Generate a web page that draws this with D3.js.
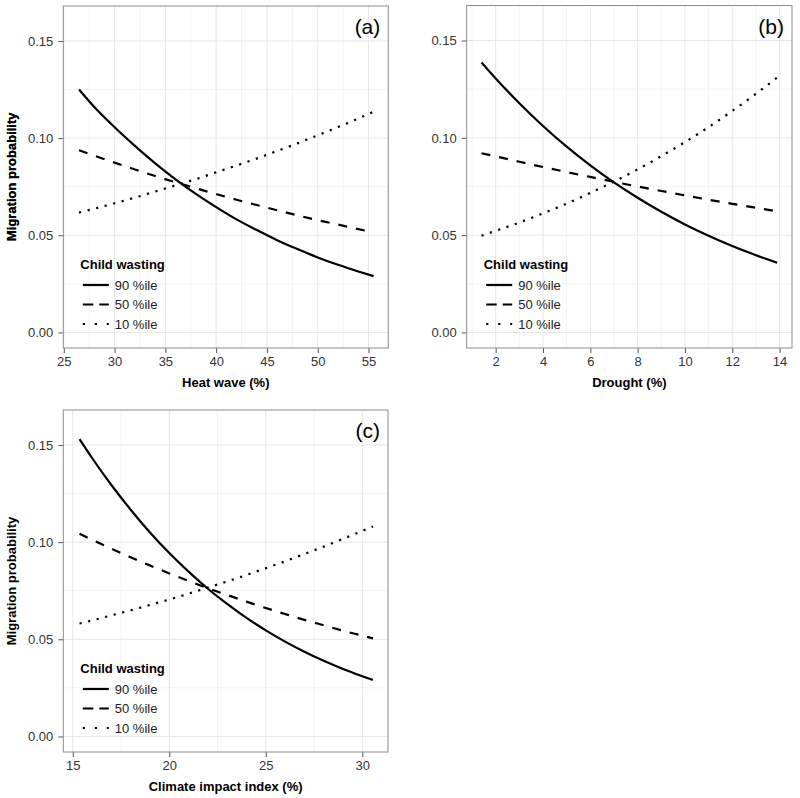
<!DOCTYPE html>
<html>
<meta charset="utf-8">
<title>Migration probability by climate exposure and child wasting</title>
<head>
<style>
  body { margin: 0; background: #fff; }
  svg { display: block; font-family: "Liberation Sans", Arial, Helvetica, sans-serif; }
  .tick text { fill: #333; font-size: 13px; }
  .tick line { stroke: #555; }
  .domain { display: none; }
</style>
</head>
<body>
<script src="https://cdnjs.cloudflare.com/ajax/libs/d3/7.8.5/d3.min.js"></script>
<script>

// ---- data ----
var seriesNames = ["90 %ile", "50 %ile", "10 %ile"];
var yTicks = [0, 0.05, 0.10, 0.15];

// (a) heat wave
var heatX   = [26.5, 28, 30, 32, 34, 36, 38, 40, 42, 44, 46, 48, 50, 52, 54, 55.5];
var heat90  = [0.125, 0.116, 0.1056, 0.096, 0.087, 0.0788, 0.0713, 0.0645, 0.0582, 0.0527, 0.0475, 0.0429, 0.0386, 0.0348, 0.0314, 0.029];
var heat50  = [0.0938, 0.091, 0.0874, 0.0839, 0.0805, 0.0773, 0.0742, 0.0712, 0.0683, 0.0656, 0.0629, 0.0603, 0.0578, 0.0555, 0.0532, 0.0515];
var heat10  = [0.0617, 0.0637, 0.0665, 0.0694, 0.0725, 0.0757, 0.0789, 0.0824, 0.0859, 0.0895, 0.0934, 0.0973, 0.1015, 0.1057, 0.1101, 0.1136];
var heatTicks = [25, 30, 35, 40, 45, 50, 55];

// (b) drought
var droughtX  = [1.4, 2, 3, 4, 5, 6, 7, 8, 9, 10, 11, 12, 13, 13.9];
var drought90 = [0.1387, 0.1305, 0.1178, 0.1061, 0.0955, 0.0859, 0.0771, 0.0692, 0.062, 0.0555, 0.0497, 0.0444, 0.0397, 0.0358];
var drought50 = [0.0921, 0.0905, 0.0877, 0.085, 0.0824, 0.0799, 0.0774, 0.075, 0.0727, 0.0704, 0.0682, 0.0661, 0.0641, 0.0622];
var drought10 = [0.0497, 0.0522, 0.0565, 0.0612, 0.0662, 0.0717, 0.0775, 0.0838, 0.0906, 0.0978, 0.1055, 0.1138, 0.1226, 0.131];
var droughtTicks = [2, 4, 6, 8, 10, 12, 14];

// (c) climate impact index
var climateX  = [15.35, 16, 17, 18, 19, 20, 21, 22, 23, 24, 25, 26, 27, 28, 29, 30, 30.55];
var climate90 = [0.153, 0.1433, 0.1294, 0.1167, 0.105, 0.0944, 0.0848, 0.076, 0.0682, 0.061, 0.0546, 0.0488, 0.0436, 0.0389, 0.0347, 0.031, 0.0291];
var climate50 = [0.1043, 0.1012, 0.0966, 0.0922, 0.088, 0.0839, 0.08, 0.0763, 0.0728, 0.0694, 0.0661, 0.063, 0.06, 0.0572, 0.0544, 0.0519, 0.0505];
var climate10 = [0.0581, 0.0597, 0.0623, 0.0649, 0.0677, 0.0705, 0.0735, 0.0766, 0.0798, 0.0831, 0.0866, 0.0901, 0.0939, 0.0977, 0.1017, 0.1058, 0.1081];
var climateTicks = [15, 20, 25, 30];

// line styles for the three percentiles
var dashes    = [null, "9,9", "2.2,6.6"];
var keyDashes = [null, "10.5,6", "2.2,9.8"];

var svg = d3.select("body").append("svg")
  .attr("width", 800)
  .attr("height", 798);

svg.append("rect").attr("width", 800).attr("height", 798).attr("fill", "#fff");

function drawPanel(p) {
  var w = p.x1 - p.x0, h = p.y1 - p.y0;
  var x = d3.scaleLinear().domain(p.xDomain).range([0, w]);
  var y = d3.scaleLinear().domain([-0.008, 0.168]).range([h, 0]);

  var g = svg.append("g").attr("transform", "translate(" + p.x0 + "," + p.y0 + ")");

  // minor grid
  var step = p.xTicks[1] - p.xTicks[0];
  var xMinor = [];
  for (var v = p.xTicks[0] - step / 2; v <= p.xDomain[1]; v += step) {
    if (v >= p.xDomain[0]) xMinor.push(v);
  }
  var yMinor = [0.025, 0.075, 0.125];
  g.selectAll(".xminor").data(xMinor).enter().append("line")
    .attr("x1", function(d) { return x(d); }).attr("x2", function(d) { return x(d); })
    .attr("y1", 0).attr("y2", h)
    .attr("stroke", "#f3f3f3").attr("stroke-width", 1);
  g.selectAll(".yminor").data(yMinor).enter().append("line")
    .attr("y1", function(d) { return y(d); }).attr("y2", function(d) { return y(d); })
    .attr("x1", 0).attr("x2", w)
    .attr("stroke", "#f3f3f3").attr("stroke-width", 1);

  // major grid
  g.selectAll(".xmajor").data(p.xTicks).enter().append("line")
    .attr("x1", function(d) { return x(d); }).attr("x2", function(d) { return x(d); })
    .attr("y1", 0).attr("y2", h)
    .attr("stroke", "#e6e6e6").attr("stroke-width", 1);
  g.selectAll(".ymajor").data(yTicks).enter().append("line")
    .attr("y1", function(d) { return y(d); }).attr("y2", function(d) { return y(d); })
    .attr("x1", 0).attr("x2", w)
    .attr("stroke", "#e6e6e6").attr("stroke-width", 1);

  // axes
  g.append("g")
    .attr("transform", "translate(0," + h + ")")
    .call(d3.axisBottom(x).tickValues(p.xTicks).tickSize(5).tickPadding(4).tickFormat(d3.format("d")));
  g.append("g")
    .call(d3.axisLeft(y).tickValues(yTicks).tickSize(5).tickPadding(5).tickFormat(d3.format(".2f")));

  // curves
  var line = d3.line()
    .x(function(d) { return x(d[0]); })
    .y(function(d) { return y(d[1]); })
    .curve(d3.curveMonotoneX);

  p.series.forEach(function(vals, i) {
    g.append("path")
      .datum(p.xs.map(function(xv, j) { return [xv, vals[j]]; }))
      .attr("fill", "none")
      .attr("stroke", "#000")
      .attr("stroke-width", 2.2)
      .attr("stroke-dasharray", dashes[i])
      .attr("d", line);
  });

  // panel border
  g.append("rect")
    .attr("x", 0).attr("y", 0).attr("width", w).attr("height", h)
    .attr("fill", "none").attr("stroke", "#8c8c8c").attr("stroke-width", 1);

  // panel letter
  g.append("text")
    .attr("x", w - 8).attr("y", 28)
    .attr("text-anchor", "end")
    .style("font-size", "21px")
    .text(p.letter);

  // axis titles
  g.append("text")
    .attr("x", w / 2).attr("y", h + 39)
    .attr("text-anchor", "middle")
    .style("font-size", "13px").style("font-weight", "bold")
    .text(p.xTitle);
  g.append("text")
    .attr("transform", "translate(" + (16 - p.x0) + "," + (h / 2) + ") rotate(-90)")
    .attr("text-anchor", "middle")
    .style("font-size", "13px").style("font-weight", "bold")
    .text("Migration probability");

  // legend
  var lg = g.append("g").attr("transform", "translate(17," + (h - 84) + ")");
  lg.append("text")
    .attr("x", 0).attr("y", 5)
    .style("font-size", "13px").style("font-weight", "bold")
    .text("Child wasting");
  var row = lg.selectAll(".key").data(seriesNames).enter().append("g")
    .attr("transform", function(d, i) { return "translate(0," + (21 + i * 19.5) + ")"; });
  row.append("line")
    .attr("x1", 2.5).attr("x2", 28.5).attr("y1", 0).attr("y2", 0)
    .attr("stroke", "#000").attr("stroke-width", 2.2)
    .attr("stroke-dasharray", function(d, i) { return keyDashes[i]; });
  row.append("text")
    .attr("x", 34.5).attr("y", 4.6)
    .style("font-size", "13px").attr("fill", "#222")
    .text(function(d) { return d; });
}

drawPanel({
  x0: 63.3, x1: 388.3, y0: 6, y1: 348,
  xDomain: [24.95, 56.95], xTicks: heatTicks,
  xs: heatX, series: [heat90, heat50, heat10],
  letter: "(a)", xTitle: "Heat wave (%)"
});

drawPanel({
  x0: 466.7, x1: 792, y0: 5.5, y1: 348,
  xDomain: [0.775, 14.525], xTicks: droughtTicks,
  xs: droughtX, series: [drought90, drought50, drought10],
  letter: "(b)", xTitle: "Drought (%)"
});

drawPanel({
  x0: 63.3, x1: 388, y0: 410, y1: 752,
  xDomain: [14.51, 31.33], xTicks: climateTicks,
  xs: climateX, series: [climate90, climate50, climate10],
  letter: "(c)", xTitle: "Climate impact index (%)"
});

</script>
</body>
</html>
